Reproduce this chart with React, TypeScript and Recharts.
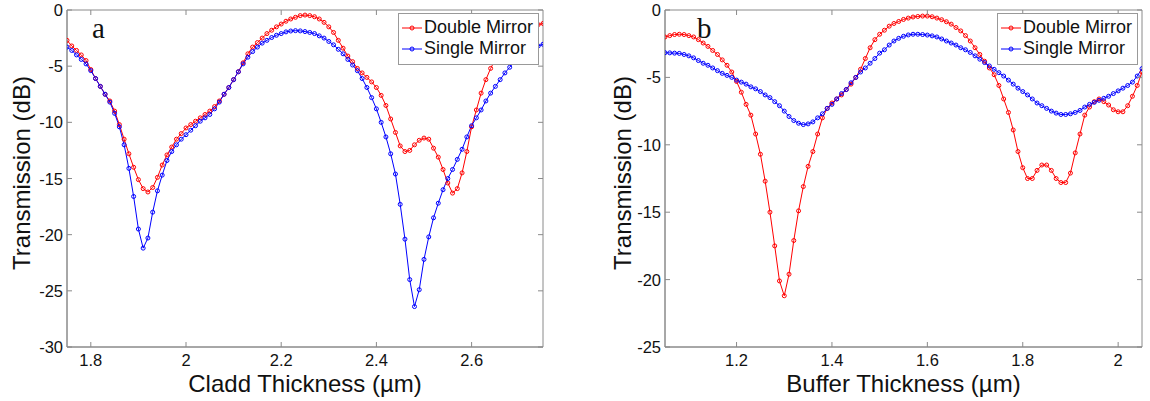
import React from "react"
import { LineChart, Line, XAxis, YAxis, Legend, ReferenceArea } from "recharts"

// cladd thickness sweep, 1.75 .. 2.75 um in 0.01 steps
const claddDouble = [
  -2.7, -3.2, -3.6, -4.0, -4.5, -5.3, -6.1, -6.8, -7.5, -8.1,
  -9.0, -10.2, -11.5, -12.8, -14.0, -15.1, -15.9, -16.2, -15.8, -14.9,
  -13.8, -12.9, -12.2, -11.5, -11.0, -10.5, -10.2, -9.9, -9.6, -9.3,
  -9.0, -8.6, -8.1, -7.5, -6.9, -6.2, -5.5, -4.7, -3.9, -3.3,
  -2.9, -2.5, -2.1, -1.8, -1.5, -1.25, -1.0, -0.8, -0.65, -0.5,
  -0.45, -0.5, -0.6, -0.8, -1.1, -1.5, -2.0, -2.7, -3.4, -4.1,
  -4.6, -5.2, -5.6, -6.0, -6.4, -6.9, -7.6, -8.5, -9.7, -10.9,
  -12.1, -12.6, -12.5, -12.0, -11.6, -11.4, -11.5, -12.3, -13.1, -14.2,
  -15.4, -16.3, -15.9, -14.5, -12.6, -10.4, -8.9, -7.4, -6.2, -5.2,
  -4.4, -3.7, -3.1, -2.6, -2.2, -1.9, -1.7, -1.5, -1.4, -1.3,
  -1.2,
]
const claddSingle = [
  -3.3, -3.6, -4.0, -4.4, -4.8, -5.4, -6.1, -6.8, -7.5, -8.2,
  -9.2, -10.4, -12.0, -14.1, -16.6, -19.5, -21.2, -20.3, -18.0, -16.1,
  -14.7, -13.4, -12.6, -12.0, -11.5, -11.1, -10.7, -10.3, -9.9, -9.6,
  -9.3, -8.8, -8.2, -7.5, -6.9, -6.2, -5.5, -4.8, -4.2, -3.7,
  -3.3, -2.95, -2.7, -2.45, -2.25, -2.1, -1.95, -1.87, -1.84, -1.86,
  -1.92, -2.0, -2.1, -2.3, -2.5, -2.8, -3.1, -3.5, -3.9, -4.4,
  -4.9, -5.4, -6.1, -6.9, -7.8, -8.8, -10.0, -11.3, -12.8, -14.6,
  -17.3, -20.4, -24.0, -26.4, -24.9, -22.2, -20.2, -18.5, -17.2, -16.0,
  -15.0, -14.2, -13.3, -12.4, -11.3, -10.3, -9.6, -8.9, -8.1, -7.4,
  -6.8, -6.2, -5.6, -5.1, -4.6, -4.2, -3.9, -3.6, -3.4, -3.2,
  -3.05,
]

// buffer thickness sweep, 1.05 .. 2.05 um in 0.01 steps
const bufferDouble = [
  -2.0, -1.9, -1.82, -1.8, -1.82, -1.9, -2.0, -2.2, -2.45, -2.7,
  -3.0, -3.3, -3.7, -4.1, -4.6, -5.3, -6.1, -7.0, -7.8, -9.2,
  -10.7, -12.7, -15.0, -17.5, -20.1, -21.2, -19.6, -17.1, -14.9, -13.1,
  -11.6, -10.5, -9.2, -8.0, -7.3, -6.9, -6.6, -6.3, -5.9, -5.5,
  -5.0, -4.4, -3.6, -2.8, -2.2, -1.8, -1.5, -1.2, -1.0, -0.85,
  -0.7, -0.6, -0.52, -0.48, -0.45, -0.45, -0.5, -0.6, -0.72, -0.87,
  -1.05, -1.3, -1.55, -1.9, -2.3, -2.8, -3.3, -3.8, -4.3, -4.8,
  -5.6, -6.6, -7.6, -8.9, -10.5, -11.7, -12.5, -12.5, -11.9, -11.5,
  -11.5, -11.9, -12.5, -12.8, -12.8, -12.1, -10.6, -9.2, -7.8, -7.2,
  -6.8, -6.6, -6.8, -7.05, -7.4, -7.55, -7.55, -7.1, -6.4, -5.6,
  -4.6,
]
const bufferSingle = [
  -3.17, -3.18, -3.2, -3.22, -3.3, -3.4, -3.55, -3.75, -3.95, -4.1,
  -4.3, -4.5, -4.7, -4.85, -5.0, -5.2, -5.35, -5.5, -5.7, -5.85,
  -6.05, -6.3, -6.5, -6.8, -7.1, -7.5, -7.9, -8.2, -8.4, -8.5,
  -8.45, -8.3, -8.0, -7.7, -7.3, -7.0, -6.6, -6.2, -5.9, -5.4,
  -5.0, -4.6, -4.3, -3.95, -3.6, -3.2, -2.95, -2.6, -2.3, -2.1,
  -1.95, -1.85, -1.8, -1.8, -1.82, -1.86, -1.92, -2.0, -2.15, -2.3,
  -2.45, -2.6, -2.8, -2.95, -3.15, -3.4, -3.65, -3.9, -4.15, -4.4,
  -4.65, -4.9, -5.2, -5.5, -5.8, -6.05, -6.3, -6.6, -6.9, -7.1,
  -7.3, -7.5, -7.65, -7.75, -7.75, -7.7, -7.6, -7.45, -7.2, -7.0,
  -6.85, -6.7, -6.55, -6.4, -6.2, -6.0, -5.8, -5.6, -5.35, -4.9,
  -4.35,
]

const claddTicks = [1.8, 2, 2.2, 2.4, 2.6]
const claddDbTicks = [0, -5, -10, -15, -20, -25, -30]
const bufferTicks = [1.2, 1.4, 1.6, 1.8, 2]
const bufferDbTicks = [0, -5, -10, -15, -20, -25]

const FONT = "'Liberation Sans', Arial, sans-serif"
const FRAME = "#8a8a8a"
const RED = "#ff0000"
const BLUE = "#0000ff"
const W = 575
const H = 401
const TOP = 10
const BOTTOM = 347

const toRows = (start: number, dbl: number[], sgl: number[]) =>
  dbl.map((d, i) => ({ t: +(start + i * 0.01).toFixed(2), dbl: d, sgl: sgl[i] }))

const claddRows = toRows(1.75, claddDouble, claddSingle)
const bufferRows = toRows(1.05, bufferDouble, bufferSingle)

const XTick = (props: any) => {
  const { x, y, payload } = props
  return (
    <g>
      <line x1={x} x2={x} y1={y} y2={y - 5} stroke={FRAME} />
      <line x1={x} x2={x} y1={TOP} y2={TOP + 5} stroke={FRAME} />
      <text x={x} y={y + 19} textAnchor="middle" fontSize={16.5} fill="#111" fontFamily={FONT}>
        {payload.value}
      </text>
    </g>
  )
}

const YTick = (props: any) => {
  const { x, y, payload, right } = props
  return (
    <g>
      <line x1={x} x2={x + 5} y1={y} y2={y} stroke={FRAME} />
      <line x1={right} x2={right - 5} y1={y} y2={y} stroke={FRAME} />
      <text x={x - 4} y={y + 6} textAnchor="end" fontSize={16.5} fill="#111" fontFamily={FONT}>
        {payload.value}
      </text>
    </g>
  )
}

const Title = (props: any) => {
  const { px, py, text, rotate } = props
  return (
    <text
      x={px}
      y={py}
      textAnchor="middle"
      fontSize={24}
      fill="#111"
      fontFamily={FONT}
      transform={rotate ? `rotate(-90 ${px} ${py})` : undefined}
    >
      {text}
    </text>
  )
}

const LegendBox = () => (
  <div
    style={{
      background: "#fff",
      border: "1px solid #999",
      width: 141,
      height: 52,
      boxSizing: "border-box",
      fontFamily: FONT,
      fontSize: 18,
      color: "#111",
    }}
  >
    {[
      { name: "Double Mirror", color: RED },
      { name: "Single Mirror", color: BLUE },
    ].map((s, i) => (
      <div key={s.name} style={{ display: "flex", alignItems: "center", height: 21, marginTop: i === 0 ? 3 : 0 }}>
        <svg width={25} height={10} style={{ flex: "none" }}>
          <line x1={3} x2={23} y1={5} y2={5} stroke={s.color} />
          <circle cx={13} cy={5} r={2} fill="none" stroke={s.color} />
        </svg>
        <span style={{ lineHeight: "21px", whiteSpace: "nowrap" }}>{s.name}</span>
      </div>
    ))}
  </div>
)

type PanelProps = {
  rows: { t: number; dbl: number; sgl: number }[]
  domain: [number, number]
  xTicks: number[]
  yTicks: number[]
  yMin: number
  margin: { top: number; right: number; bottom: number; left: number }
  plotLeft: number
  plotRight: number
  xTitle: string
  yTitleX: number
  legendLeft: number
}

const Panel = (p: PanelProps) => (
  <LineChart width={W} height={H} data={p.rows} margin={p.margin}>
    <ReferenceArea
      x1={p.domain[0]}
      x2={p.domain[1]}
      y1={p.yMin}
      y2={0}
      fill="none"
      stroke={FRAME}
      strokeOpacity={1}
      fillOpacity={0}
    />
    <XAxis
      dataKey="t"
      type="number"
      domain={p.domain}
      ticks={p.xTicks}
      interval={0}
      allowDataOverflow
      height={H - BOTTOM - p.margin.bottom}
      tickSize={0}
      tickMargin={0}
      tickLine={false}
      axisLine={{ stroke: FRAME }}
      tick={<XTick />}
      label={<Title px={(p.plotLeft + p.plotRight) / 2} py={392} text={p.xTitle} />}
    />
    <YAxis
      type="number"
      domain={[p.yMin, 0]}
      ticks={p.yTicks}
      interval={0}
      allowDataOverflow
      width={60}
      tickSize={0}
      tickMargin={0}
      tickLine={false}
      axisLine={{ stroke: FRAME }}
      tick={<YTick right={p.plotRight} />}
      label={<Title px={p.yTitleX} py={173} text="Transmission (dB)" rotate />}
    />
    <Legend
      layout="horizontal"
      verticalAlign="middle"
      align="center"
      content={<LegendBox />}
      wrapperStyle={{ left: p.legendLeft, top: 13, width: 141, height: 52 }}
    />
    <Line
      dataKey="dbl"
      name="Double Mirror"
      stroke={RED}
      strokeWidth={1}
      dot={{ r: 2, fill: "none", stroke: RED, strokeWidth: 1 }}
      activeDot={false}
      isAnimationActive={false}
    />
    <Line
      dataKey="sgl"
      name="Single Mirror"
      stroke={BLUE}
      strokeWidth={1}
      dot={{ r: 2, fill: "none", stroke: BLUE, strokeWidth: 1 }}
      activeDot={false}
      isAnimationActive={false}
    />
  </LineChart>
)

const Letter = ({ left, text }: { left: number; text: string }) => (
  <div
    style={{
      position: "absolute",
      left,
      top: 14,
      fontFamily: "'Liberation Serif', 'Times New Roman', serif",
      fontSize: 29,
      lineHeight: "29px",
      color: "#111",
    }}
  >
    {text}
  </div>
)

export default function App() {
  return (
    <div style={{ position: "absolute", left: 0, top: 0, width: 1150, height: 401, background: "#fff" }}>
      <div style={{ position: "absolute", left: 0, top: 0 }}>
        <Panel
          rows={claddRows}
          domain={[1.75, 2.75]}
          xTicks={claddTicks}
          yTicks={claddDbTicks}
          yMin={-30}
          margin={{ top: TOP, right: 32, bottom: 0, left: 7 }}
          plotLeft={67}
          plotRight={543}
          xTitle="Cladd Thickness (µm)"
          yTitleX={30}
          legendLeft={398}
        />
      </div>
      <div style={{ position: "absolute", left: 575, top: 0 }}>
        <Panel
          rows={bufferRows}
          domain={[1.05, 2.05]}
          xTicks={bufferTicks}
          yTicks={bufferDbTicks}
          yMin={-25}
          margin={{ top: TOP, right: 8, bottom: 0, left: 30 }}
          plotLeft={90}
          plotRight={567}
          xTitle="Buffer Thickness (µm)"
          yTitleX={56}
          legendLeft={422}
        />
      </div>
      <Letter left={92} text="a" />
      <Letter left={697} text="b" />
    </div>
  )
}
